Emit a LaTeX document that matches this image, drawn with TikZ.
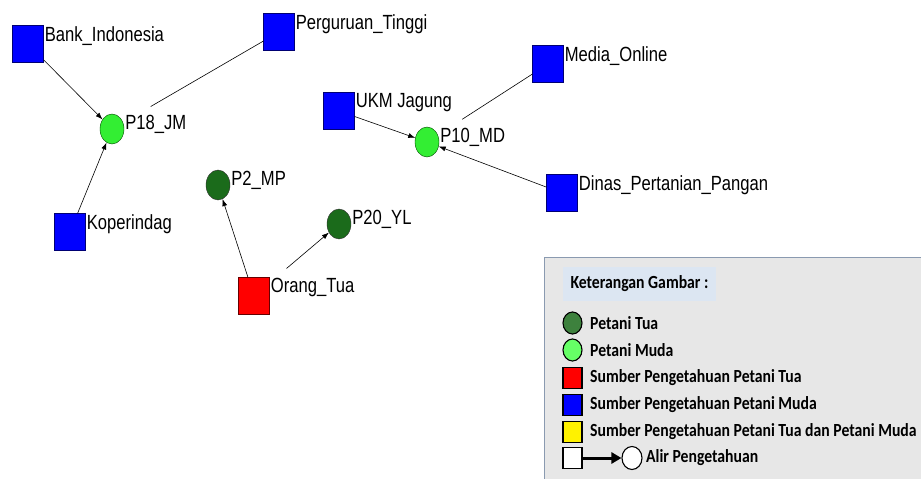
\documentclass[tikz,border=0pt]{standalone}
\usepackage{fontspec}
\setmainfont{Liberation Sans}
\newfontfamily\netfont[FakeStretch=0.81]{Liberation Sans}
\newfontfamily\legfont[FakeStretch=0.85]{Carlito}
\usepackage{xcolor}
\usetikzlibrary{arrows.meta,positioning,shapes.geometric}

\definecolor{srcblue}{HTML}{0000FF}
\definecolor{srcred}{HTML}{FF0000}
\definecolor{tuagreen}{HTML}{1B6B1B}
\definecolor{mudagreen}{HTML}{33EE33}
\definecolor{legbg}{HTML}{E7E7E7}
\definecolor{legline}{HTML}{8A9AB0}
\definecolor{ketbg}{HTML}{DCE6F2}

\begin{document}
\begin{tikzpicture}[
    x=1pt, y=-1pt,
    >={Latex[length=7pt,width=5pt]},
    font={\netfont\fontsize{20.5}{22}\selectfont},
    sumber/.style={
		rectangle,
		draw=blue!45!black,
		fill=srcblue,
		minimum width=31pt,
		minimum height=37pt,
		inner sep=0pt
	},
    tua/.style={
		ellipse,
		draw=black!80,
		fill=tuagreen,
		minimum width=24pt,
		minimum height=30pt,
		inner sep=0pt
	},
    muda/.style={
		ellipse,
		draw=green!30!black,
		fill=mudagreen,
		minimum width=24pt,
		minimum height=30pt,
		inner sep=0pt
	},
    lbl/.style={
		anchor=north west,
		inner sep=1pt
	},
    edge/.style={
		draw=black,
		line width=0.6pt
	},
    legtext/.style={
		anchor=west,
		inner sep=0pt,
		font={\legfont\bfseries\fontsize{18.5}{20}\selectfont}
	},
    legsym/.style={
		draw=black,
		line width=1.1pt,
		inner sep=0pt
	}
  ]
  \useasboundingbox (0,0) rectangle (921,479);

  % sumber pengetahuan and petani
  \node [sumber] (bank) at (28,44) {};
  \node [sumber] (perguruan) at (279,32) {};
  \node [muda] (p18) at (112,129) {};
  \node [sumber] (koperindag) at (70,232) {};
  \node [sumber] (ukm) at (339,111) {};
  \node [muda] (p10) at (427,142) {};
  \node [sumber] (media) at (548,64) {};
  \node [sumber] (dinas) at (562,193) {};
  \node [tua] (p2) at (218,185) {};
  \node [tua] (p20) at (339,224) {};
  \node [sumber, fill=srcred, draw=red!40!black] (orangtua) at (254,296) {};

  % labels
  \node [lbl] (bankl) at (bank.north east) {Bank\_Indonesia};
  \node [lbl] (perguruanl) at (perguruan.north east) {Perguruan\_Tinggi};
  \node [lbl] (p18l) at (p18.east |- p18.north) {P18\_JM};
  \node [lbl] (koperindagl) at (koperindag.north east) {Koperindag};
  \node [lbl] (ukml) at (ukm.north east) {UKM Jagung};
  \node [lbl] (p10l) at (p10.east |- p10.north) {P10\_MD};
  \node [lbl] (medial) at (media.north east) {Media\_Online};
  \node [lbl] (dinasl) at (dinas.north east) {Dinas\_Pertanian\_Pangan};
  \node [lbl] (p2l) at (p2.east |- p2.north) {P2\_MP};
  \node [lbl] (p20l) at (p20.east |- p20.north) {P20\_YL};
  \node [lbl] (orangtual) at (orangtua.north east) {Orang\_Tua};

  % alir pengetahuan
  \draw [edge,->] (bank) -- (p18);
  \draw [edge,->] (koperindag) -- (p18);
  \draw [edge, shorten >=32pt] (perguruan) -- (p18);
  \draw [edge,->] (ukm) -- (p10);
  \draw [edge,->] (dinas) -- (p10);
  \draw [edge, shorten >=29pt] (media) -- (p10);
  \draw [edge,->] (orangtua) -- (p2);
  \draw [edge,->, shorten <=22pt] (orangtua) -- (p20);

  % keterangan gambar
  \fill [legbg] (544,257) rectangle (921,479);
  \draw [legline, line width=1pt] (544,479) |- (921,257);
  \node [fill=ketbg, minimum width=153pt, minimum height=34pt, inner sep=0pt,
         font={\legfont\bfseries\fontsize{18.5}{20}\selectfont}] (ket) at (639.5,284) {Keterangan Gambar :};

  \node [legsym, ellipse, fill=tuagreen!85!white, minimum width=19pt, minimum height=22pt] (kt1) at (572.5,323) {};
  \node [legtext] (kt1l) at (590,323) {Petani Tua};
  \node [legsym, ellipse, fill=green!60!white, minimum width=19pt, minimum height=22pt] (kt2) at (572.5,350) {};
  \node [legtext] (kt2l) at (590,350) {Petani Muda};
  \node [legsym, rectangle, fill=srcred, minimum width=19pt, minimum height=21pt] (kt3) at (572.5,378) {};
  \node [legtext] (kt3l) at (590,378) {Sumber Pengetahuan Petani Tua};
  \node [legsym, rectangle, fill=srcblue, minimum width=19pt, minimum height=21pt] (kt4) at (572.5,405) {};
  \node [legtext] (kt4l) at (590,405) {Sumber Pengetahuan Petani Muda};
  \node [legsym, rectangle, fill=yellow, minimum width=19pt, minimum height=21pt] (kt5) at (572.5,432) {};
  \node [legtext] (kt5l) at (590,432) {Sumber Pengetahuan Petani Tua dan Petani Muda};
  \node [legsym, rectangle, fill=white, minimum width=19pt, minimum height=21pt] (kt6a) at (572.5,458) {};
  \node [legsym, ellipse, fill=white, minimum width=20pt, minimum height=23pt] (kt6b) at (632,458) {};
  \node [legtext] (kt6l) at (646,458) {Alir Pengetahuan};
  \draw [line width=3pt, -{Triangle[length=10pt,width=11pt]}] (kt6a.east) -- (kt6b.west);

\end{tikzpicture}
\end{document}
